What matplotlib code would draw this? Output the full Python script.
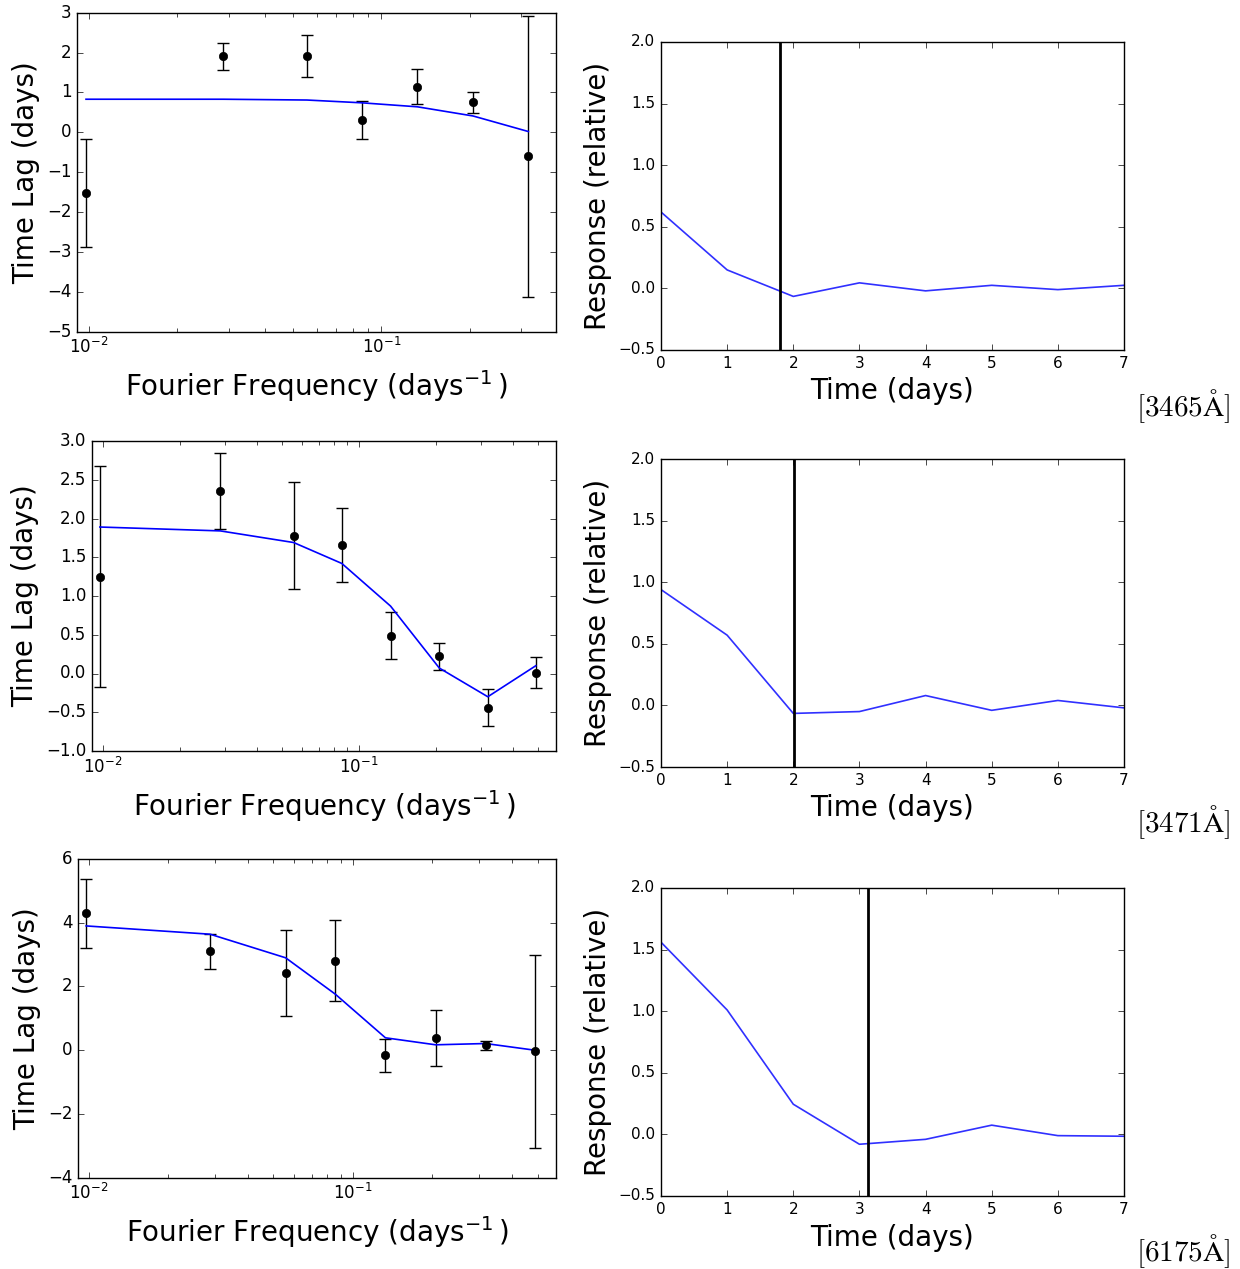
import matplotlib
matplotlib.use('Agg')
import matplotlib.pyplot as plt
from matplotlib.ticker import LogLocator, NullFormatter

plt.style.use('classic')
plt.rcParams['figure.facecolor'] = 'white'
plt.rcParams['savefig.facecolor'] = 'white'
plt.rcParams['mathtext.fontset'] = 'dejavusans'
plt.rcParams['font.family'] = 'DejaVu Sans'

########## DATA
# Fourier frequencies (days^-1)
freqs = [0.00977, 0.0288, 0.0556, 0.0857, 0.1327, 0.2056, 0.3177, 0.4887]

# 3465A : lags, errors, model
lag_3465 = [-1.52, 1.91, 1.91, 0.31, 1.14, 0.75, -0.60]
err_3465 = [1.35, 0.34, 0.52, 0.48, 0.44, 0.26, 3.52]
model_3465 = [0.83, 0.83, 0.81, 0.74, 0.64, 0.41, 0.02]

# 3471A
lag_3471 = [1.25, 2.36, 1.78, 1.66, 0.49, 0.22, -0.44, 0.01]
err_3471 = [1.43, 0.49, 0.69, 0.48, 0.30, 0.17, 0.24, 0.20]
model_3471 = [1.89, 1.84, 1.69, 1.42, 0.87, 0.07, -0.30, 0.10]

# 6175A
lag_6175 = [4.29, 3.10, 2.42, 2.81, -0.16, 0.38, 0.15, -0.04]
err_6175 = [1.09, 0.55, 1.34, 1.27, 0.51, 0.87, 0.14, 3.02]
model_6175 = [3.90, 3.64, 2.90, 1.76, 0.39, 0.17, 0.21, 0.00]

# response functions
t_days = [0, 1, 2, 3, 4, 5, 6, 7]
resp_3465 = [0.62, 0.15, -0.065, 0.045, -0.02, 0.025, -0.01, 0.025]
resp_3471 = [0.94, 0.57, -0.065, -0.05, 0.08, -0.04, 0.04, -0.02]
resp_6175 = [1.56, 1.01, 0.245, -0.08, -0.04, 0.075, -0.01, -0.015]
mean_lag = [1.80, 2.01, 3.13]

band_labels = [r'$[3465\mathrm{\AA}]$', r'$[3471\mathrm{\AA}]$', r'$[6175\mathrm{\AA}]$']

########## LAYOUT (pixel boxes: left, top, right, bottom)
W, H = 1240., 1269.
left_boxes = [(77, 12.7, 556, 331.7), (92, 441, 556, 751), (78, 859, 556, 1177.7)]
right_boxes = [(661, 42, 1124, 350), (661, 459, 1124, 767), (661, 888, 1124, 1196)]
label_y = [406, 822, 1251]

lags = [lag_3465, lag_3471, lag_6175]
errs = [err_3465, err_3471, err_6175]
models = [model_3465, model_3471, model_6175]
resps = [resp_3465, resp_3471, resp_6175]
xmax = [0.395, 0.586, 0.587]
ylims = [(-5, 3), (-1, 3), (-4, 6)]
ysteps = [1, 0.5, 2]


def rect(box):
	l, t, r, b = box
	return [l/W, 1 - b/H, (r - l)/W, (b - t)/H]


fig = plt.figure(figsize=(12.4, 12.69), dpi=100)

for k in range(3):
	# lag-frequency panel
	ax = fig.add_axes(rect(left_boxes[k]))
	n = len(lags[k])
	f = freqs[:n]
	ax.errorbar(f, lags[k], yerr=errs[k], fmt='ko', ecolor='k', capsize=4,
				markersize=6, elinewidth=1.0, capthick=1.0)
	ax.plot(f, models[k], 'b-', lw=1.2)
	ax.set_xscale('log')
	ax.set_xlim(0.0091, xmax[k])
	ax.xaxis.set_minor_locator(LogLocator(base=10, subs=range(2, 10)))
	ax.xaxis.set_minor_formatter(NullFormatter())
	lo, hi = ylims[k]
	ax.set_ylim(lo, hi)
	ticks = []
	v = lo
	while v <= hi + 1e-9:
		ticks.append(v)
		v += ysteps[k]
	ax.set_yticks(ticks)
	ax.tick_params(labelsize=12)
	ax.tick_params(which='minor', length=3, top=True, bottom=True)
	ax.set_xlabel(r'Fourier Frequency (days$^{-1}\,$)', fontsize=20, labelpad=8)
	ax.set_ylabel('Time Lag (days)', fontsize=20)

	# response panel
	ax2 = fig.add_axes(rect(right_boxes[k]))
	ax2.plot(t_days, resps[k], color='#3030ff', lw=1.2)
	ax2.axvline(mean_lag[k], color='k', lw=2)
	ax2.set_xlim(0, 7)
	ax2.set_ylim(-0.5, 2.0)
	ax2.set_xticks(range(0, 8))
	ax2.set_yticks([-0.5, 0.0, 0.5, 1.0, 1.5, 2.0])
	ax2.tick_params(labelsize=11)
	ax2.set_xlabel('Time (days)', fontsize=20)
	ax2.set_ylabel('Response (relative)', fontsize=20)

	fig.text(1230/W, 1 - label_y[k]/H, band_labels[k], ha='right', va='center',
			 fontsize=21, math_fontfamily='cm')

fig.savefig('out.png', dpi=100)
